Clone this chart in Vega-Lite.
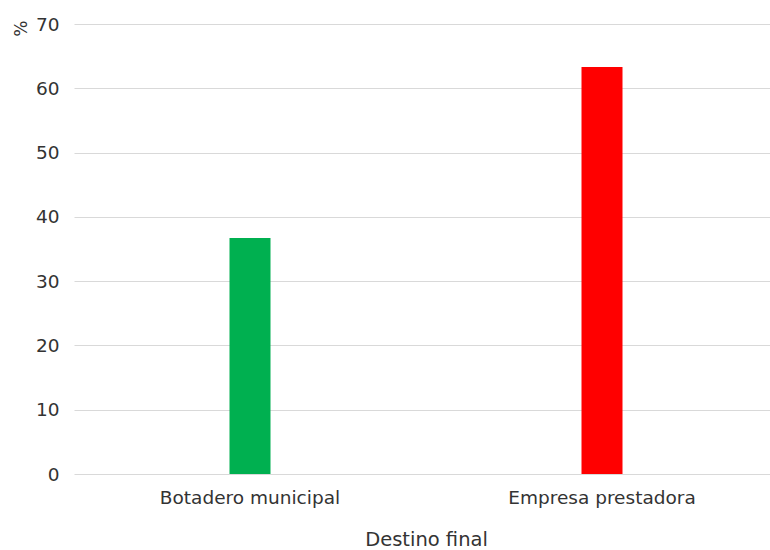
{
  "$schema": "https://vega.github.io/schema/vega-lite/v6.json",
  "autosize": "none",
  "width": 696,
  "height": 450,
  "padding": {"left": 74, "top": 24, "right": 0, "bottom": 76},
  "background": "white",
  "config": {"view": {"stroke": null}, "font": "DejaVu Sans"},
  "data": {"values": [
    {"destino": "Botadero municipal", "pct": 36.7},
    {"destino": "Empresa prestadora", "pct": 63.3}
  ]},
  "mark": {"type": "bar", "width": 41},
  "encoding": {
    "x": {
      "field": "destino", "type": "nominal", "sort": null,
      "scale": {"range": [0, 704], "paddingInner": 0, "paddingOuter": 0},
      "axis": {
        "title": "Destino final", "labelAngle": 0, "domain": false, "ticks": false, "labelLimit": 400,
        "labelFont": "DejaVu Sans", "labelFontSize": 18.5, "labelColor": "#333333", "labelPadding": 14,
        "titleFont": "DejaVu Sans", "titleFontSize": 19.5, "titleFontWeight": "normal", "titleColor": "#333333",
        "titlePadding": 24, "titleX": 352
      }
    },
    "y": {
      "field": "pct", "type": "quantitative",
      "scale": {"domain": [0, 70]},
      "axis": {
        "title": "%", "values": [0, 10, 20, 30, 40, 50, 60, 70],
        "domain": false, "ticks": false, "grid": true, "gridColor": "#d9d9d9", "gridWidth": 1,
        "labelFont": "DejaVu Sans", "labelFontSize": 18.5, "labelColor": "#333333", "labelPadding": 15,
        "titleFont": "DejaVu Sans", "titleFontSize": 17, "titleFontWeight": "normal", "titleColor": "#333333",
        "titleAngle": -90, "titleX": -53, "titleY": -4, "titleAlign": "right", "titleBaseline": "middle"
      }
    },
    "color": {
      "field": "destino", "type": "nominal", "legend": null,
      "scale": {"domain": ["Botadero municipal", "Empresa prestadora"], "range": ["#00b050", "#ff0000"]}
    }
  }
}
